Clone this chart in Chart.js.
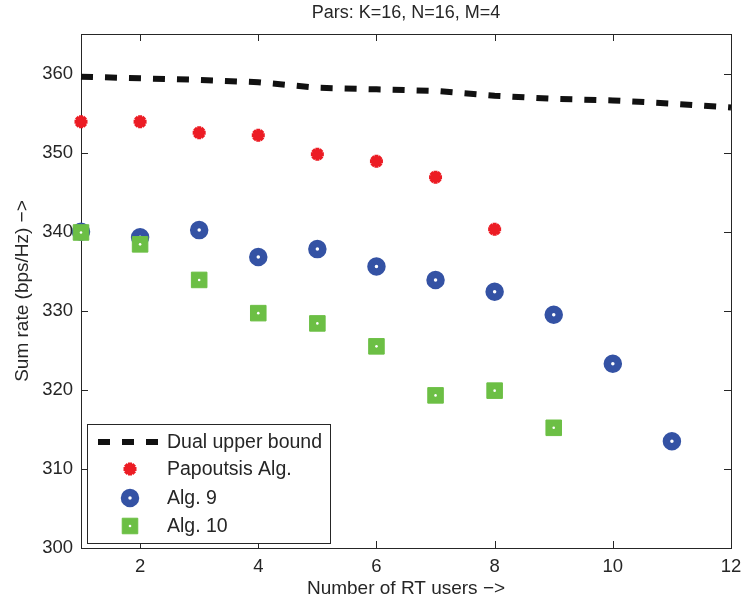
<!DOCTYPE html>
<html>
<head>
<meta charset="utf-8">
<script src="https://cdn.jsdelivr.net/npm/chart.js@4.4.1/dist/chart.umd.min.js"></script>
<style>
  html, body { margin: 0; padding: 0; background: #fff; }
</style>
</head>
<body>
<canvas id="chart" width="745" height="604"></canvas>
<script>
// data
const users = [1, 2, 3, 4, 5, 6, 7, 8, 9, 10, 11, 12];
const dualBound = [359.6, 359.4, 359.2, 358.9, 358.2, 358.0, 357.8, 357.2, 356.8, 356.6, 356.2, 355.7];
const papoutsis = [353.9, 353.9, 352.5, 352.2, 349.8, 348.9, 346.9, 340.3];
const alg9 = [340.0, 339.3, 340.2, 336.8, 337.8, 335.6, 333.9, 332.4, 329.5, 323.3, 313.5];
const alg10 = [339.9, 338.4, 333.9, 329.7, 328.4, 325.5, 319.3, 319.9, 315.2];
const xTicks = [2, 4, 6, 8, 10, 12];
const yTicks = [300, 310, 320, 330, 340, 350, 360];

const titleText = 'Pars: K=16, N=16, M=4';
const axisColor = '#262626';
const font = 'Liberation Sans, Arial, sans-serif';

const pts = (vals) => vals.map((v, i) => ({ x: users[i], y: v }));

const datasets = [
  {
    label: 'Dual upper bound',
    data: pts(dualBound),
    showLine: true,
    borderColor: '#111',
    borderWidth: 6,
    borderDash: [12, 12],
    borderCapStyle: 'butt',
    pointRadius: 0,
    order: 3
  },
  {
    label: 'Papoutsis Alg.',
    data: pts(papoutsis),
    pointStyle: 'star',
    pointRadius: 6.5,
    pointBorderWidth: 4,
    borderColor: '#ec1c24',
    backgroundColor: '#ec1c24',
    order: 2
  },
  {
    label: 'Alg. 9',
    data: pts(alg9),
    pointStyle: 'circle',
    pointRadius: 5.5,
    pointBorderWidth: 7.5,
    borderColor: '#3452a4',
    backgroundColor: '#ffffff',
    order: 1
  },
  {
    label: 'Alg. 10',
    data: pts(alg10),
    pointStyle: 'rect',
    pointRadius: 11,
    pointBorderWidth: 1,
    borderColor: '#6cbf45',
    backgroundColor: '#6cbf45',
    order: 0,
    centerDot: true
  }
];

// box, inward tick marks, title
const framePlugin = {
  id: 'frame',
  beforeDatasetsDraw(chart) {
    const { ctx, chartArea: a, scales } = chart;
    ctx.save();
    ctx.strokeStyle = axisColor;
    ctx.lineWidth = 1;
    ctx.strokeRect(a.left + 0.5, a.top + 0.5, a.right - a.left, a.bottom - a.top);
    ctx.beginPath();
    xTicks.forEach(v => {
      const px = Math.round(scales.x.getPixelForValue(v)) + 0.5;
      ctx.moveTo(px, a.bottom); ctx.lineTo(px, a.bottom - 7);
      ctx.moveTo(px, a.top); ctx.lineTo(px, a.top + 7);
    });
    yTicks.forEach(v => {
      const py = Math.round(scales.y.getPixelForValue(v)) + 0.5;
      ctx.moveTo(a.left, py); ctx.lineTo(a.left + 7, py);
      ctx.moveTo(a.right, py); ctx.lineTo(a.right - 7, py);
    });
    ctx.stroke();
    ctx.fillStyle = axisColor;
    ctx.font = '18px ' + font;
    ctx.textAlign = 'center';
    ctx.textBaseline = 'middle';
    ctx.fillText(titleText, (a.left + a.right) / 2, 13);
    ctx.restore();
  },
  afterDatasetsDraw(chart) {
    const { ctx, chartArea: a } = chart;
    ctx.save();
    // little white dot inside the squares
    chart.data.datasets.forEach((ds, i) => {
      if (!ds.centerDot) return;
      chart.getDatasetMeta(i).data.forEach(el => {
        ctx.fillStyle = '#fff';
        ctx.beginPath();
        ctx.arc(el.x, el.y, 1.3, 0, Math.PI * 2);
        ctx.fill();
      });
    });

    // legend, lower left inside the axes
    const bx = a.left + 6, by = a.bottom - 124, bw = 243, bh = 119;
    ctx.fillStyle = '#fff';
    ctx.fillRect(bx, by, bw, bh);
    ctx.strokeStyle = axisColor;
    ctx.lineWidth = 1;
    ctx.strokeRect(bx + 0.5, by + 0.5, bw, bh);
    const rows = [18, 45, 74, 102];
    datasets.forEach((ds, i) => {
      const y = by + rows[i];
      if (ds.showLine) {
        ctx.save();
        ctx.strokeStyle = ds.borderColor;
        ctx.lineWidth = ds.borderWidth;
        ctx.setLineDash(ds.borderDash);
        ctx.lineCap = 'butt';
        ctx.beginPath();
        ctx.moveTo(bx + 11, y);
        ctx.lineTo(bx + 73, y);
        ctx.stroke();
        ctx.restore();
      } else {
        ctx.fillStyle = ds.backgroundColor;
        ctx.strokeStyle = ds.borderColor;
        ctx.lineWidth = ds.pointBorderWidth;
        Chart.helpers.drawPoint(ctx, {
          pointStyle: ds.pointStyle,
          radius: ds.pointRadius,
          borderWidth: ds.pointBorderWidth,
          rotation: 0
        }, bx + 43, y);
        if (ds.centerDot) {
          ctx.fillStyle = '#fff';
          ctx.beginPath();
          ctx.arc(bx + 43, y, 1.3, 0, Math.PI * 2);
          ctx.fill();
        }
      }
      ctx.fillStyle = axisColor;
      ctx.font = '19.5px ' + font;
      ctx.textAlign = 'left';
      ctx.textBaseline = 'middle';
      ctx.fillText(ds.label, bx + 80, y + 1);
    });
    ctx.restore();
  }
};

new Chart(document.getElementById('chart'), {
  type: 'scatter',
  data: { datasets },
  options: {
    responsive: false,
    animation: false,
    clip: false,
    layout: { padding: { top: 34, right: 14, left: 0, bottom: 0 } },
    plugins: {
      legend: { display: false },
      tooltip: { enabled: false }
    },
    scales: {
      x: {
        type: 'linear',
        min: 1,
        max: 12,
        afterBuildTicks: s => { s.ticks = xTicks.map(v => ({ value: v })); },
        afterFit: s => { s.height = 56; s.paddingLeft = 0; s.paddingRight = 0; },
        grid: { display: false, drawTicks: false },
        border: { display: false },
        ticks: { color: axisColor, font: { family: font, size: 18.5 }, padding: 8, maxRotation: 0 },
        title: {
          display: true,
          text: 'Number of RT users −>',
          color: axisColor,
          font: { family: font, size: 19 },
          padding: { top: 0, bottom: 4 }
        }
      },
      y: {
        type: 'linear',
        min: 300,
        max: 365,
        afterBuildTicks: s => { s.ticks = yTicks.map(v => ({ value: v })); },
        afterFit: s => { s.width = 81; s.paddingTop = 0; s.paddingBottom = 0; },
        grid: { display: false, drawTicks: false },
        border: { display: false },
        ticks: { color: axisColor, font: { family: font, size: 18.5 }, padding: 8 },
        title: {
          display: true,
          text: 'Sum rate (bps/Hz) −>',
          color: axisColor,
          font: { family: font, size: 19 },
          padding: { top: 11, bottom: 0 }
        }
      }
    }
  },
  plugins: [framePlugin]
});
</script>
</body>
</html>
